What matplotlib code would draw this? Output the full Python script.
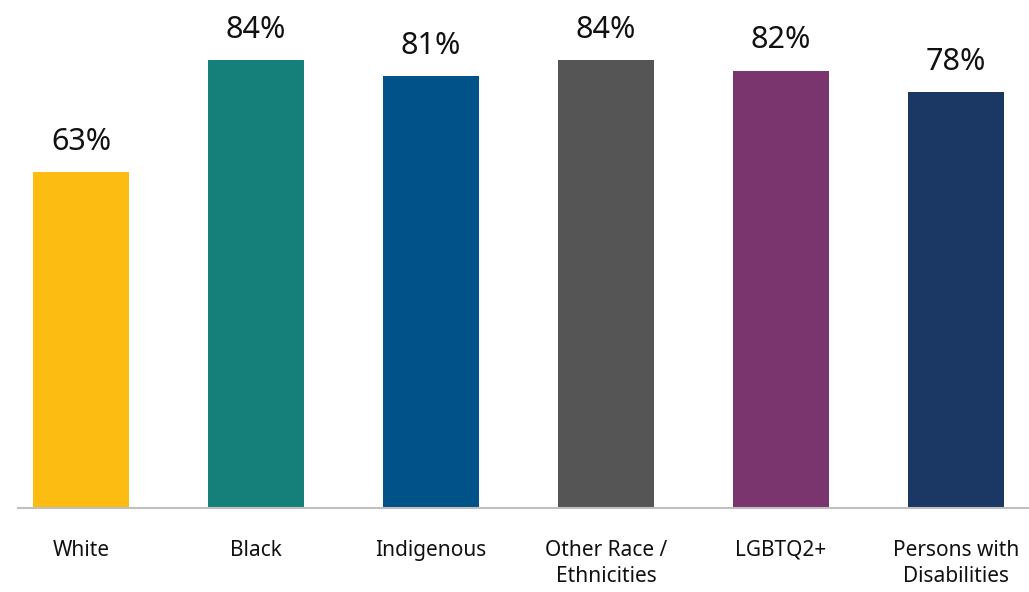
import matplotlib
matplotlib.use("Agg")
import matplotlib.pyplot as plt

categories = ["White", "Black", "Indigenous", "Other Race /\nEthnicities", "LGBTQ2+", "Persons with\nDisabilities"]
values = [63, 84, 81, 84, 82, 78]
colors = ["#FCBC12", "#15807A", "#005288", "#555555", "#7A346E", "#1B3764"]

plt.rcParams["font.family"] = ["Noto Sans", "DejaVu Sans"]

fig = plt.figure(figsize=(10.29, 5.92), dpi=100)
ax = fig.add_axes([18/1029, 84/592, 1011/1029, 508/592])
x = list(range(len(categories)))
bars = ax.bar(x, values, width=0.55, color=colors)
ax.set_xlim(-0.36, 5.418)
ax.set_ylim(0, 95.25)
for xi, v in zip(x, values):
    ax.annotate(f"{v}%", (xi, v), xytext=(0, 11), textcoords="offset points",
                ha="center", va="bottom", fontsize=22, color="#111111")
for s in ["top", "right", "left"]:
    ax.spines[s].set_visible(False)
ax.spines["bottom"].set_color("#BFBFBF")
ax.spines["bottom"].set_linewidth(1.5)
ax.set_yticks([])
ax.set_xticks(x)
ax.set_xticklabels(categories, fontsize=15, color="#111111", linespacing=1.32, va="top")
ax.tick_params(axis="x", length=0, pad=23)
fig.savefig("out.png", dpi=100)
